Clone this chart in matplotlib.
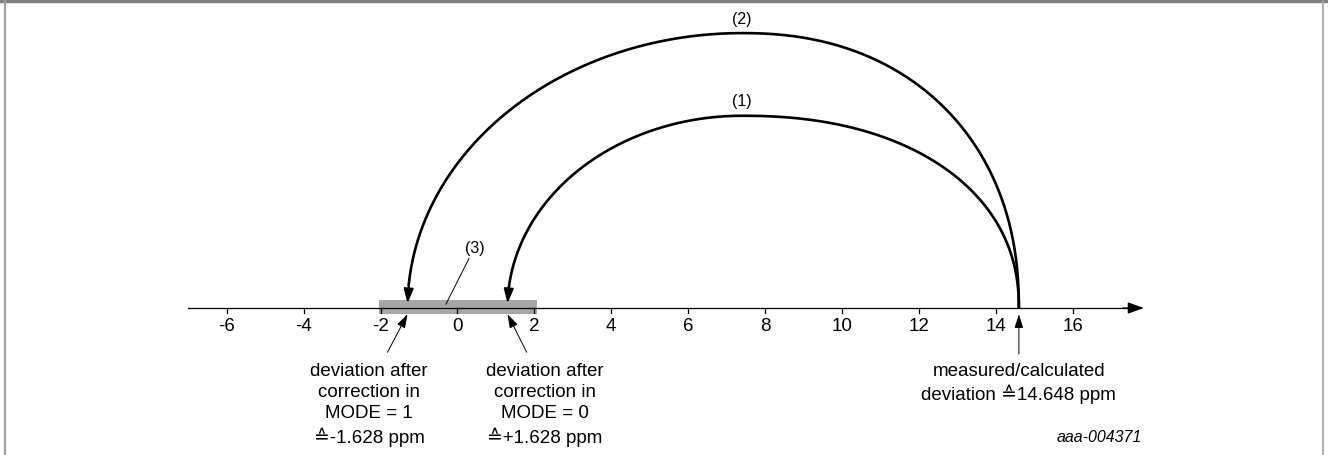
import numpy as np
import matplotlib
matplotlib.use('Agg')
import matplotlib.pyplot as plt
from matplotlib.lines import Line2D
from matplotlib.patches import Rectangle

plt.rcParams['font.family'] = ['Liberation Sans', 'DejaVu Sans']

# axis ticks and the correction range (3)
ticks = [-6, -4, -2, 0, 2, 4, 6, 8, 10, 12, 14, 16]
band = [-2, 2]

# positions as drawn on the scale
measured_x = 14.6
mode1_x = -1.3
mode0_x = 1.3
arc_top_x = 7.4
arc_heights = {'(1)': 5.0, '(2)': 7.15}
arc_targets = {'(1)': mode0_x, '(2)': mode1_x}

label_mode1 = 'deviation after\ncorrection in\nMODE = 1\n\u2259-1.628 ppm'
label_mode0 = 'deviation after\ncorrection in\nMODE = 0\n\u2259+1.628 ppm'
label_meas = 'measured/calculated\ndeviation \u225914.648 ppm'
doc_id = 'aaa-004371'

fig = plt.figure(figsize=(13.28, 4.55), dpi=100)
ax = fig.add_axes([0, 0, 1, 1])
px = 38.45
ax.set_xlim(-457.5 / px, (1328 - 457.5) / px)
ax.set_ylim(-147 / px, 308 / px)
ax.axis('off')

# frame lines around the figure
fig.add_artist(Line2D([0, 1], [0.997, 0.997], transform=fig.transFigure, color='#7f7f7f', lw=2.5))
fig.add_artist(Line2D([4.5 / 1328, 4.5 / 1328], [0, 1], transform=fig.transFigure, color='#a0a0a0', lw=1.5))
fig.add_artist(Line2D([1322.5 / 1328, 1322.5 / 1328], [0, 1], transform=fig.transFigure, color='#a0a0a0', lw=1.2))

# grey range (3)
ax.add_patch(Rectangle((band[0] - 0.04, -0.16), band[1] - band[0] + 0.1, 0.37,
                       facecolor='#a6a6a6', edgecolor='none', zorder=1))

# number line with arrow
ax.plot([-7, 17.6], [0, 0], color='black', lw=0.9, zorder=2)
ax.annotate('', xy=(17.85, 0), xytext=(17.3, 0),
            arrowprops=dict(arrowstyle='-|>,head_length=0.7,head_width=0.25',
                            mutation_scale=14, color='black', lw=0.9,
                            shrinkA=0, shrinkB=0))
for t in ticks:
    ax.plot([t, t], [0, -0.13], color='black', lw=0.9, zorder=2)
    ax.text(t, -0.48, str(t), ha='center', va='center', fontsize=13.5)


def half(x_from, x_to, h, n, y_end, num=200):
    # quarter of a superellipse from the top point down to the axis
    t = np.linspace(0, np.arccos((y_end / h) ** (n / 2)) if y_end > 0 else np.pi / 2, num)
    r = x_to - x_from
    xs = x_from + r * np.abs(np.sin(t)) ** (2 / n)
    ys = h * np.abs(np.cos(t)) ** (2 / n)
    return xs, ys


for name, h in arc_heights.items():
    xr, yr = half(arc_top_x, measured_x, h, 2.2, 0)
    xl, yl = half(arc_top_x, arc_targets[name], h, 2.0, 0.12)
    ax.plot(xr, yr, color='black', lw=1.9, zorder=3, solid_capstyle='butt')
    ax.plot(xl[:-8], yl[:-8], color='black', lw=1.9, zorder=3, solid_capstyle='butt')
    ax.annotate('', xy=(xl[-1], yl[-1]), xytext=(xl[-12], yl[-12]),
                arrowprops=dict(arrowstyle='-|>,head_length=0.65,head_width=0.22',
                                mutation_scale=13, color='black', lw=1.5,
                                shrinkA=0, shrinkB=0), zorder=4)
    ax.text(arc_top_x, h + 0.36, name, ha='center', va='center', fontsize=11.5)

# label (3) with leader
ax.text(0.45, 1.54, '(3)', ha='center', va='center', fontsize=11.5)
ax.plot([0.3, -0.3], [1.29, 0.1], color='black', lw=0.7)

# pointer arrows from text to the scale
arrow_kw = dict(arrowstyle='-|>,head_length=0.7,head_width=0.22', mutation_scale=12,
                color='black', lw=0.7, shrinkA=0, shrinkB=0)
ax.annotate('', xy=(mode1_x, -0.16), xytext=(mode1_x - 0.52, -1.15), arrowprops=arrow_kw)
ax.annotate('', xy=(mode0_x, -0.16), xytext=(mode0_x + 0.5, -1.15), arrowprops=arrow_kw)
ax.annotate('', xy=(measured_x, -0.16), xytext=(measured_x, -1.2), arrowprops=arrow_kw)

txt = dict(ha='center', va='top', fontsize=13.5, linespacing=1.33)
ax.text((369 - 457.5) / px, -1.42, label_mode1, **txt)
ax.text((545 - 457.5) / px, -1.42, label_mode0, **txt)
ax.text(measured_x, -1.42, label_meas, **txt)
ax.text((1142 - 457.5) / px, (308 - 437) / px, doc_id, ha='right', va='center',
        fontsize=11.5, style='italic')

fig.savefig('out.png', dpi=100)
